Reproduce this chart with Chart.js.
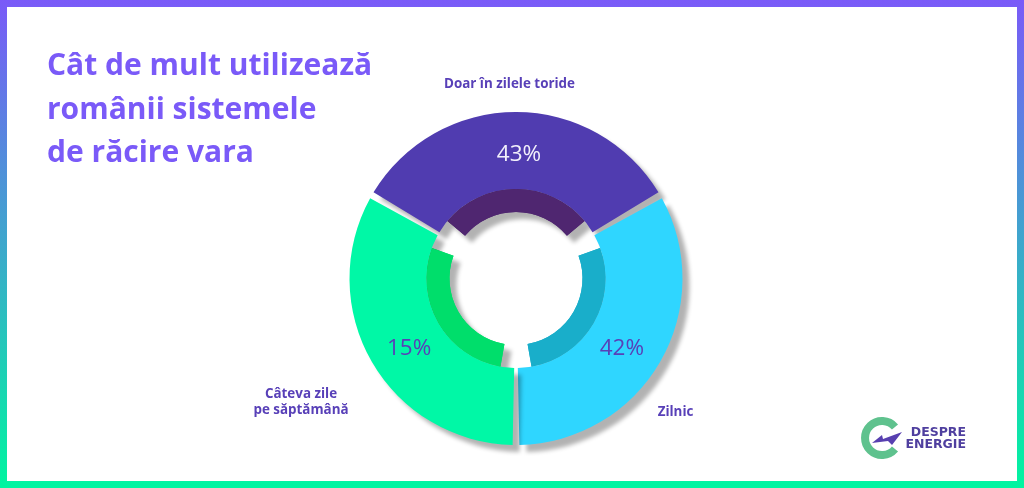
<!DOCTYPE html>
<html lang="ro">
<head>
<meta charset="utf-8">
<title>Sisteme de răcire</title>
<script src="https://cdn.jsdelivr.net/npm/chart.js@4"></script>
<style>
    html, body { margin: 0; padding: 0; }
    body { width: 1024px; height: 488px; overflow: hidden; position: relative; background: linear-gradient(180deg, #7a5af8 0%, #00f5a0 100%); }
    #panel { position: absolute; left: 7px; top: 7px; width: 1010px; height: 474px; background: #fff; }
    #chart { position: absolute; left: 0; top: 0; }
    #title { position: absolute; left: 47px; top: 42px; font: 700 30px/43.5px "Open Sans", sans-serif; color: #7a5af8; white-space: nowrap; }
    #logo { position: absolute; left: 855px; top: 412px; }
    #logo-text { position: absolute; right: 58px; top: 426px; font: 700 12.5px/12px "DejaVu Sans", sans-serif; color: #4f3f9f; text-align: right; }
</style>
</head>
<body>
<div id="panel"></div>
<canvas id="chart" width="1024" height="488"></canvas>
<div id="title">Cât de mult utilizează<br>românii sistemele<br>de răcire vara</div>
<svg id="logo" width="54" height="54" viewBox="0 0 54 54">
    <path d="M40 15 A17 17 0 1 0 40 37" fill="none" stroke="#5fc28e" stroke-width="8"/>
    <path d="M17 31 L27 23 L28 27 L47 20 L37 33 L33 29 Z" fill="#5840b0"/>
</svg>
<div id="logo-text">DESPRE<br>ENERGIE</div>

<script>
    // the picture draws three equal slices, whatever the printed percentages say
    var categories = ["Doar în zilele toride", "Zilnic", "Câteva zile\npe săptămână"];
    var percentLabels = ["43%", "42%", "15%"];
    var sliceValues = [120, 120, 120];

    var outerColors = ["#503cb0", "#2fd6ff", "#00f8a6"];
    var innerColors = ["#4f2670", "#19aeca", "#00de6b"];
    var percentColors = ["#f2f0fb", "#5840b8", "#5840b8"];

    var percentNudge = [[3, 4], [-5, 6], [4, 6]];
    var categorySpots = [[509.5, 84], [675.5, 412], [301, 402]];

    var OUTER_RING = 1;

    // dataset 0 is drawn last: it repaints the inner ring clean, over the outer ring's shadow
    var shadowPlugin = {
        id: "shadow",
        beforeDatasetDraw: function (chart, args) {
            var ctx = chart.ctx;
            ctx.save();
            if (args.index !== 0) {
                ctx.shadowColor = "rgba(0,0,0,0.3)";
                ctx.shadowOffsetX = 7;
                ctx.shadowOffsetY = 7;
                ctx.shadowBlur = 4;
            }
        },
        afterDatasetDraw: function (chart) {
            chart.ctx.restore();
        },
    };

    var labelPlugin = {
        id: "labels",
        afterDatasetsDraw: function (chart) {
            var ctx = chart.ctx;
            var arcs = chart.getDatasetMeta(OUTER_RING).data;

            ctx.save();
            ctx.textAlign = "center";
            ctx.textBaseline = "middle";

            arcs.forEach(function (arc, i) {
                var p = arc.tooltipPosition();
                ctx.font = '22.5px "Open Sans"';
                ctx.fillStyle = percentColors[i];
                ctx.fillText(percentLabels[i], p.x + percentNudge[i][0], p.y + percentNudge[i][1]);

                ctx.font = '700 13.4px "Open Sans"';
                ctx.fillStyle = "#5840b8";
                var lines = categories[i].split("\n");
                lines.forEach(function (line, n) {
                    var y = categorySpots[i][1] + (n - (lines.length - 1) / 2) * 16;
                    ctx.fillText(line, categorySpots[i][0], y);
                });
            });
            ctx.restore();
        },
    };

    // spacing pushes the drawn radii out by half its value, so radius and cutout are set short of the picture's rings
    new Chart(document.getElementById("chart"), {
        type: "doughnut",
        data: {
            labels: categories,
            datasets: [
                { data: sliceValues, backgroundColor: innerColors, spacing: 24, radius: 77.5, cutout: "10.97%", borderWidth: 0 },
                { data: sliceValues, backgroundColor: outerColors, spacing: 4.9, radius: 241.1, cutout: "4.127%", borderWidth: 0 },
                { data: sliceValues, backgroundColor: innerColors, spacing: 24, radius: 123.5, cutout: "44.13%", borderWidth: 0 },
            ],
        },
        options: {
            responsive: false,
            animation: false,
            rotation: -60,
            layout: { padding: { left: 8, top: 69 } },
            plugins: { legend: { display: false }, tooltip: { enabled: false } },
        },
        plugins: [shadowPlugin, labelPlugin],
    });
</script>
</body>
</html>
